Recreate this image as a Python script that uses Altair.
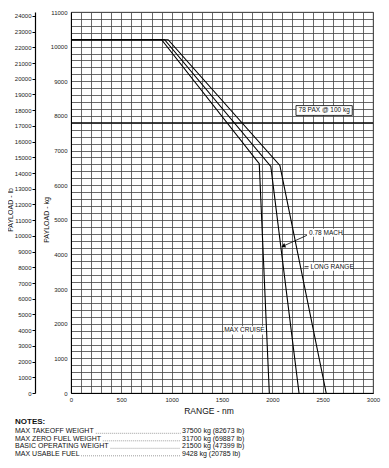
import altair as alt
import pandas as pd

# ---------------- data ----------------
series_names = ["MAX CRUISE", "0.78 MACH", "LONG RANGE"]
max_cruise_range = [0, 900, 1870, 1970]
max_cruise_payload = [10200, 10200, 6620, 0]
mach_range = [0, 930, 1985, 2265]
mach_payload = [10200, 10200, 6540, 0]
long_range_range = [0, 965, 2075, 2535]
long_range_payload = [10200, 10200, 6570, 0]

pax_payload_kg = [7800]
pax_label = ["78 PAX @ 100 kg"]

x_label_ticks = [0, 500, 1000, 1500, 2000, 2500, 3000]
x_grid_ticks = list(range(0, 3001, 100))
kg_label_ticks = list(range(0, 11001, 1000))
kg_grid_ticks = list(range(0, 11001, 200))
lb_ticks = list(range(0, 24001, 1000))
KG_TO_LB = 2.20462

note_labels = ["MAX TAKEOFF WEIGHT", "MAX ZERO FUEL WEIGHT", "BASIC OPERATING WEIGHT", "MAX USABLE FUEL"]
note_values = ["37500 kg (82673 lb)", "31700 kg (69887 lb)", "21500 kg (47399 lb)", "9428 kg (20785 lb)"]

# annotation anchors (range nm, payload kg)
ann_text = ["78 PAX @ 100 kg", "0.78 MACH", "LONG RANGE", "MAX CRUISE"]
ann_x = [2515, 2365, 2378, 1722]
ann_y = [8157, 4629, 3647, 1812]
ann_box_x = [2235, 2345, 2360, 1520]
ann_box_x2 = [2794, 2690, 2780, 1919]
ann_box_y = [8014, 4510, 3530, 1690]
ann_box_y2 = [8298, 4745, 3765, 1926]
arrow_from = (2343, 4552)
arrow_to = (2115, 4250)
leader_lr = (2320, 2360, 3647)

FONT = "Liberation Sans"
W, H = 302, 381
KG_MAX = 11000

# ---------------- frames ----------------
rows = []
for name, xs_, ys_ in zip(series_names,
                          [max_cruise_range, mach_range, long_range_range],
                          [max_cruise_payload, mach_payload, long_range_payload]):
    for i, (a, b) in enumerate(zip(xs_, ys_)):
        rows.append({"series": name, "i": i, "range": a, "kg": b})
lines_df = pd.DataFrame(rows)

xs = alt.Scale(domain=[0, 3000], nice=False, zero=False)
ys = alt.Scale(domain=[0, KG_MAX], nice=False, zero=False)

x_axis = alt.Axis(values=x_grid_ticks, format="d", title=None,
                  labelExpr="datum.value % 500 === 0 ? datum.label : ''",
                  labelOverlap=False, labelFlush=False, ticks=False,
                  labelPadding=3, labelFontSize=6, labelFont=FONT, labelColor="#222",
                  grid=True, gridColor="#444", gridWidth=0.8,
                  domainColor="#000", domainWidth=1)
y_axis = alt.Axis(values=kg_grid_ticks, format="d", title=None,
                  labelExpr="datum.value % 1000 === 0 ? datum.label : ''",
                  labelOverlap=False, labelFlush=False, ticks=False,
                  labelPadding=4, labelFontSize=6, labelFont=FONT, labelColor="#222",
                  grid=True, gridColor="#444", gridWidth=0.8,
                  domainColor="#000", domainWidth=1)


def X(f):
    return alt.X(f, scale=xs, axis=x_axis)


def Y(f):
    return alt.Y(f, scale=ys, axis=y_axis)


lines = alt.Chart(lines_df).mark_line(color="#000", strokeWidth=1.1).encode(
    x=X("range:Q"), y=Y("kg:Q"), detail="series:N", order="i:Q")

pax_rule = alt.Chart(pd.DataFrame({"kg": pax_payload_kg})).mark_rule(
    color="#000", strokeWidth=1.2).encode(y=Y("kg:Q"))

ann_df = pd.DataFrame({"t": ann_text, "x": ann_x, "y": ann_y,
                       "bx": ann_box_x, "bx2": ann_box_x2,
                       "by": ann_box_y, "by2": ann_box_y2})

boxes = alt.Chart(ann_df).mark_rect(fill="#fff").encode(
    x=X("bx:Q"), x2="bx2:Q", y=Y("by:Q"), y2="by2:Q",
    stroke=alt.condition(alt.datum.t == pax_label[0], alt.value("#000"), alt.value("transparent")),
    strokeWidth=alt.value(0.8),
)

txt_center = alt.Chart(ann_df).transform_filter(
    (alt.datum.t == ann_text[0]) | (alt.datum.t == ann_text[3])
).mark_text(font=FONT, fontSize=6.5, color="#111", align="center", baseline="middle").encode(
    x=X("x:Q"), y=Y("y:Q"), text="t:N")

txt_left = alt.Chart(ann_df).transform_filter(
    (alt.datum.t == ann_text[1]) | (alt.datum.t == ann_text[2])
).mark_text(font=FONT, fontSize=6.5, color="#111", align="left", baseline="middle").encode(
    x=X("x:Q"), y=Y("y:Q"), text="t:N")

arrow_df = pd.DataFrame({"x": [arrow_from[0]], "y": [arrow_from[1]],
                         "x2": [arrow_to[0]], "y2": [arrow_to[1]]})
arrow_line = alt.Chart(arrow_df).mark_rule(color="#000", strokeWidth=0.8).encode(
    x=X("x:Q"), y=Y("y:Q"), x2="x2:Q", y2="y2:Q")
arrow_head = alt.Chart(arrow_df).mark_point(shape="triangle", filled=True, size=22,
                                            angle=246, color="#000", opacity=1).encode(
    x=X("x2:Q"), y=Y("y2:Q"))

lr_df = pd.DataFrame({"x": [leader_lr[0]], "x2": [leader_lr[1]], "y": [leader_lr[2]]})
lr_leader = alt.Chart(lr_df).mark_rule(color="#000", strokeWidth=0.8).encode(
    x=X("x:Q"), x2="x2:Q", y=Y("y:Q"))

kg_layer = alt.layer(lines, pax_rule, boxes, txt_center, txt_left,
                     arrow_line, arrow_head, lr_leader)

# lb axis (independent scale)
lb_df = pd.DataFrame({"lb": lb_ticks})
lb_layer = alt.Chart(lb_df).mark_point(opacity=0).encode(
    y=alt.Y("lb:Q", scale=alt.Scale(domain=[0, KG_MAX * KG_TO_LB], nice=False, zero=False),
            axis=alt.Axis(orient="left", offset=36, values=lb_ticks, format="d", title=None,
                          grid=False, ticks=True, tickSize=3, tickColor="#000",
                          labelPadding=1, labelFontSize=6, labelFont=FONT, labelColor="#222",
                          labelOverlap=False, labelFlush=False,
                          domainColor="#000", domainWidth=1.2)))

# pixel-positioned texts
one = pd.DataFrame({"a": [0]})


def ptext(s, x, y, size=7, align="left", angle=0, weight="normal"):
    return alt.Chart(one).mark_text(text=s, font=FONT, fontSize=size, align=align,
                                    baseline="middle", angle=angle, fontWeight=weight,
                                    color="#111").encode(x=alt.value(x), y=alt.value(y))


AW = {'A': .667, 'B': .667, 'C': .722, 'D': .722, 'E': .667, 'F': .611, 'G': .778,
      'H': .722, 'I': .278, 'K': .667, 'L': .556, 'M': .833, 'N': .722, 'O': .778,
      'P': .667, 'R': .722, 'S': .667, 'T': .611, 'U': .722, 'W': .944, 'X': .667,
      'Z': .611, ' ': .278}

extra = [
    ptext("PAYLOAD - lb", -60, 198, size=7, align="center", angle=270),
    ptext("PAYLOAD - kg", -24, 208, size=7, align="center", angle=270),
    ptext("RANGE - nm", 138, 399, size=8.5, align="center"),
    ptext("NOTES:", -56, 410, size=8, weight="bold"),
]
note_y = [419, 426.5, 434, 441.5]
NOTE_FS = 7
val_x = 111
for lab, val, py in zip(note_labels, note_values, note_y):
    extra.append(ptext(lab, -56, py, size=NOTE_FS))
    extra.append(ptext(val, val_x, py, size=NOTE_FS))
    lab_end = -56 + sum(AW.get(c, .6) for c in lab) * NOTE_FS + 1.5
    extra.append(alt.Chart(one).mark_rule(color="#555", strokeWidth=0.7,
                                          strokeDash=[0.8, 1.2]).encode(
        x=alt.value(lab_end), x2=alt.value(val_x - 1.5),
        y=alt.value(py + 2.3)))

chart = alt.layer(kg_layer, lb_layer, *extra).resolve_scale(y="independent").properties(
    width=W, height=H,
    autosize=alt.AutoSizeParams(type="none"),
    padding={"left": 63, "top": 4, "right": 8, "bottom": 65},
    background="#fff",
).configure_view(stroke="#333", strokeWidth=0.8)

chart.save("out.html", embed_options={"renderer": "svg", "actions": False})
